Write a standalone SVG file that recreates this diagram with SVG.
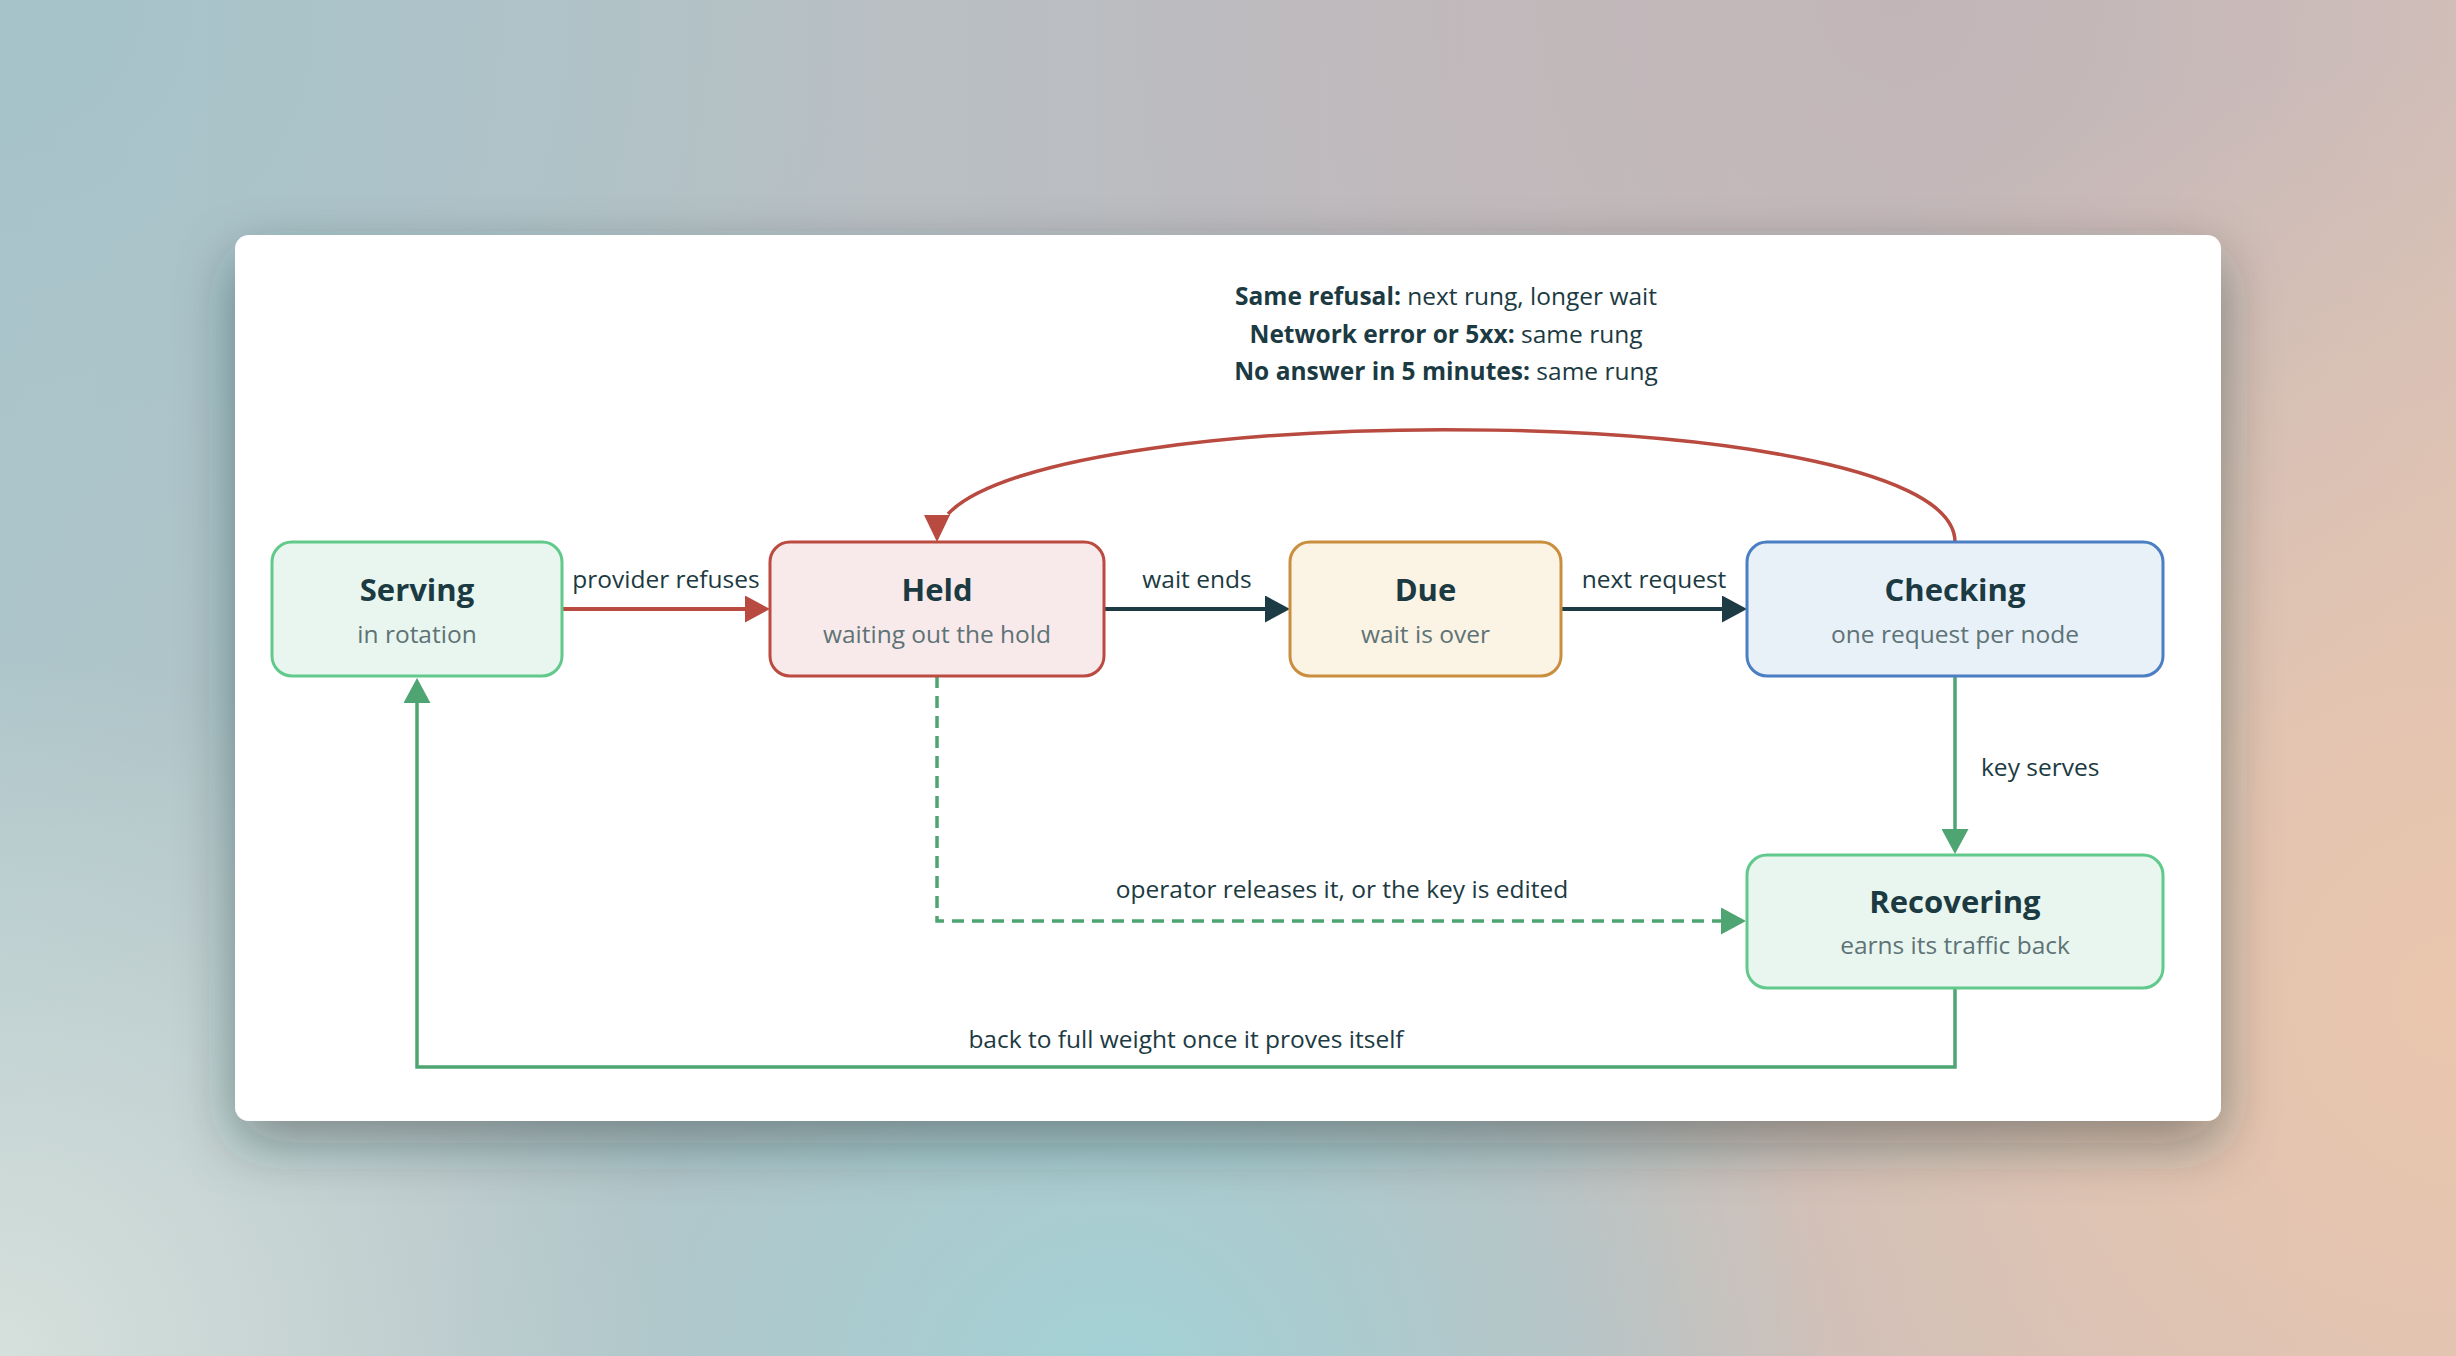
<svg xmlns="http://www.w3.org/2000/svg" width="2456" height="1356" viewBox="0 0 2456 1356">
  <defs>
    <linearGradient id="bgBase" x1="0" y1="0" x2="1" y2="0">
      <stop offset="0" stop-color="#afc6ca"/>
      <stop offset="0.5" stop-color="#bcbcc0"/>
      <stop offset="1" stop-color="#d6c1b8"/>
    </linearGradient>
    <radialGradient id="bgTeal" cx="1120" cy="1400" r="720" gradientUnits="userSpaceOnUse">
      <stop offset="0" stop-color="#a2d2d6" stop-opacity="1"/>
      <stop offset="1" stop-color="#a2d2d6" stop-opacity="0"/>
    </radialGradient>
    <radialGradient id="bgPale" cx="0" cy="1356" r="700" gradientUnits="userSpaceOnUse">
      <stop offset="0" stop-color="#d6e0dc" stop-opacity="1"/>
      <stop offset="1" stop-color="#d6e0dc" stop-opacity="0"/>
    </radialGradient>
    <radialGradient id="bgPeach" cx="2456" cy="1000" r="950" gradientUnits="userSpaceOnUse">
      <stop offset="0" stop-color="#eac6ad" stop-opacity="1"/>
      <stop offset="1" stop-color="#eac6ad" stop-opacity="0"/>
    </radialGradient>
    <radialGradient id="bgMauve" cx="1900" cy="0" r="800" gradientUnits="userSpaceOnUse">
      <stop offset="0" stop-color="#c0b4b8" stop-opacity="0.9"/>
      <stop offset="1" stop-color="#c0b4b8" stop-opacity="0"/>
    </radialGradient>
    <radialGradient id="bgBlue" cx="0" cy="0" r="900" gradientUnits="userSpaceOnUse">
      <stop offset="0" stop-color="#a6c3ca" stop-opacity="1"/>
      <stop offset="1" stop-color="#a6c3ca" stop-opacity="0"/>
    </radialGradient>
    <filter id="cardShadow" x="-10%" y="-15%" width="120%" height="145%">
      <feDropShadow dx="0" dy="22" stdDeviation="28" flood-color="#1c2c32" flood-opacity="0.42"/>
    </filter>
    <marker id="arrRed" markerUnits="userSpaceOnUse" markerWidth="26" markerHeight="27" refX="0" refY="13.5" orient="auto">
      <path d="M0,0 L25,13.5 L0,27 Z" fill="#b84a40"/>
    </marker>
    <marker id="arrDark" markerUnits="userSpaceOnUse" markerWidth="26" markerHeight="27" refX="0" refY="13.5" orient="auto">
      <path d="M0,0 L25,13.5 L0,27 Z" fill="#1d3b44"/>
    </marker>
    <marker id="arrGreen" markerUnits="userSpaceOnUse" markerWidth="26" markerHeight="27" refX="0" refY="13.5" orient="auto">
      <path d="M0,0 L25,13.5 L0,27 Z" fill="#4ea572"/>
    </marker>
  </defs>
  <style>
    .node rect { stroke-width: 3; }
    .green rect { fill: #e9f6ef; stroke: #62c98c; }
    .red rect { fill: #f8eaea; stroke: #bb4a40; }
    .amber rect { fill: #fbf3e4; stroke: #c98e3e; }
    .blue rect { fill: #e8f0f8; stroke: #4b7fc3; }
    .title { font-family: "Open Sans", "Noto Sans", sans-serif; font-size: 31px; font-weight: 700; fill: #1c3a42; text-anchor: middle; }
    .sub { font-family: "Open Sans", "Noto Sans", sans-serif; font-size: 24.5px; fill: #5e7376; text-anchor: middle; }
    .lbl { font-family: "Open Sans", "Noto Sans", sans-serif; font-size: 24.5px; fill: #1c3a42; text-anchor: middle; }
    .lbl-start { text-anchor: start; }
    .b { font-weight: 700; }
    .edge { fill: none; }
    .e-red { stroke: #b84a40; stroke-width: 4; }
    .e-dark { stroke: #1d3b44; stroke-width: 4; }
    .e-green { stroke: #4ea572; stroke-width: 3.5; }
    .e-dash { stroke: #4ea572; stroke-width: 3.5; stroke-dasharray: 12 8; }
  </style>

  <!-- background -->
  <rect x="0" y="0" width="2456" height="1356" fill="url(#bgBase)"/>
  <rect x="0" y="0" width="2456" height="1356" fill="url(#bgBlue)"/>
  <rect x="0" y="0" width="2456" height="1356" fill="url(#bgMauve)"/>
  <rect x="0" y="0" width="2456" height="1356" fill="url(#bgPeach)"/>
  <rect x="0" y="0" width="2456" height="1356" fill="url(#bgPale)"/>
  <rect x="0" y="0" width="2456" height="1356" fill="url(#bgTeal)"/>

  <!-- card -->
  <rect x="235" y="235" width="1986" height="886" rx="14" ry="14" fill="#ffffff" filter="url(#cardShadow)"/>

  <!-- connectors -->
  <g id="connectors">
    <path class="edge e-red" d="M562,609 H745" marker-end="url(#arrRed)"/>
    <text class="lbl" x="666" y="588">provider refuses</text>

    <path class="edge e-dark" d="M1104,609 H1265" marker-end="url(#arrDark)"/>
    <text class="lbl" x="1197" y="588">wait ends</text>

    <path class="edge e-dark" d="M1561,609 H1722" marker-end="url(#arrDark)"/>
    <text class="lbl" x="1654" y="588">next request</text>

    <path class="edge e-red" d="M1955,542 C1955,400 1060,395 948,514" style="stroke-width:3.5"/>
    <path d="M924,515 L950,515 L937,542 Z" fill="#b84a40"/>
    <text class="lbl" x="1446" y="305"><tspan class="b">Same refusal:</tspan> next rung, longer wait</text>
    <text class="lbl" x="1446" y="342.5"><tspan class="b">Network error or 5xx:</tspan> same rung</text>
    <text class="lbl" x="1446" y="380"><tspan class="b">No answer in 5 minutes:</tspan> same rung</text>

    <path class="edge e-green" d="M1955,676 V829" marker-end="url(#arrGreen)"/>
    <text class="lbl lbl-start" x="1981" y="776">key serves</text>

    <path class="edge e-dash" d="M937,676 V921 H1721" marker-end="url(#arrGreen)"/>
    <text class="lbl" x="1342" y="898">operator releases it, or the key is edited</text>

    <path class="edge e-green" d="M1955,988 V1067 H417 V703" marker-end="url(#arrGreen)"/>
    <text class="lbl" x="1186" y="1048">back to full weight once it proves itself</text>
  </g>

  <!-- nodes -->
  <g id="node-serving" class="node green">
    <rect x="272" y="542" width="290" height="134" rx="20" ry="20"/>
    <text class="title" x="417" y="601">Serving</text>
    <text class="sub" x="417" y="643">in rotation</text>
  </g>
  <g id="node-held" class="node red">
    <rect x="770" y="542" width="334" height="134" rx="20" ry="20"/>
    <text class="title" x="937" y="601">Held</text>
    <text class="sub" x="937" y="643">waiting out the hold</text>
  </g>
  <g id="node-due" class="node amber">
    <rect x="1290" y="542" width="271" height="134" rx="20" ry="20"/>
    <text class="title" x="1425.5" y="601">Due</text>
    <text class="sub" x="1425.5" y="643">wait is over</text>
  </g>
  <g id="node-checking" class="node blue">
    <rect x="1747" y="542" width="416" height="134" rx="20" ry="20"/>
    <text class="title" x="1955" y="601">Checking</text>
    <text class="sub" x="1955" y="643">one request per node</text>
  </g>
  <g id="node-recovering" class="node green">
    <rect x="1747" y="855" width="416" height="133" rx="20" ry="20"/>
    <text class="title" x="1955" y="913">Recovering</text>
    <text class="sub" x="1955" y="954">earns its traffic back</text>
  </g>
</svg>
